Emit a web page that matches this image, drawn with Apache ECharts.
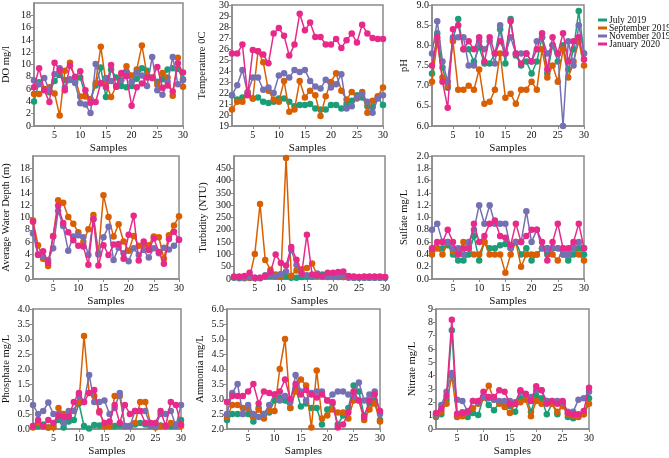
<!DOCTYPE html>
<html>
<head>
<meta charset="utf-8">
<script src="https://cdn.jsdelivr.net/npm/echarts@6/dist/echarts.min.js"></script>
<style>
html,body{margin:0;padding:0;background:#fff;}
#c{width:669px;height:458px;}
</style>
</head>
<body>
<div id="c"></div>
<script>
const samples = [1,2,3,4,5,6,7,8,9,10,11,12,13,14,15,16,17,18,19,20,21,22,23,24,25,26,27,28,29,30];
const seriesNames = ['July 2019','September 2019','November 2019','January 2020'];
const xTickLabels = [5,10,15,20,25,30];

// DO mg/l
const doJul = [4.0,7.1,6.0,5.5,7.3,8.3,7.5,7.5,7.3,7.9,5.0,4.4,6.6,9.5,4.7,9.2,7.9,6.5,6.3,6.5,7.7,9.4,9.0,7.8,7.2,7.6,9.2,9.4,9.3,7.6];
const doSep = [5.2,5.2,6.0,6.3,5.3,1.7,9.0,10.3,7.8,4.8,4.8,4.3,7.0,12.9,7.0,4.7,6.5,8.5,9.7,8.2,9.2,13.1,8.3,7.9,6.7,8.6,7.9,4.9,11.1,6.4];
const doNov = [7.4,6.8,7.8,5.8,8.4,9.4,6.2,7.6,7.0,3.7,3.5,2.1,10.1,6.9,7.8,7.3,6.4,7.5,8.8,7.2,8.7,8.2,6.5,11.2,5.8,5.1,7.2,11.2,6.8,7.5];
const doJan = [6.3,9.4,5.8,3.9,10.3,9.1,5.8,9.8,8.0,8.9,5.8,3.8,3.9,7.0,6.3,9.9,6.4,8.6,8.1,3.3,6.3,6.9,7.9,7.8,9.6,6.2,6.6,5.6,10.2,8.7];

// Temperature 0C
const tempJul = [21.8,21.4,21.6,21.9,21.5,21.6,21.2,21.1,21.2,21.5,21.5,21.2,20.8,20.9,20.9,21.0,20.6,20.5,20.5,20.9,20.9,20.6,21.0,21.3,21.8,21.6,20.8,20.7,21.6,20.9];
const tempSep = [20.5,21.2,21.2,22.1,21.5,25.8,24.8,22.2,21.4,21.2,23.1,20.3,20.5,23.1,21.6,22.2,21.8,19.9,21.7,23.0,23.8,22.2,21.4,22.1,21.5,22.1,20.2,21.3,21.7,22.5];
const tempNov = [21.8,22.7,24.1,22.0,23.4,23.4,22.3,22.5,22.0,23.6,23.8,23.4,24.1,23.9,24.1,23.1,22.6,22.4,23.2,22.5,22.8,23.7,20.6,20.8,21.6,21.9,21.2,20.2,21.5,21.8];
const tempJan = [25.6,25.6,26.4,21.8,25.9,25.8,25.5,24.7,27.4,27.9,27.2,25.4,26.4,29.2,27.7,28.4,27.1,27.1,26.4,26.4,26.9,26.1,26.8,27.4,26.6,28.2,27.4,27.0,26.9,26.9];

// pH
const phJul = [7.3,8.3,7.45,6.95,8.15,8.65,7.9,7.9,7.6,7.95,7.55,7.55,7.8,8.4,7.55,8.65,7.75,7.5,7.6,7.3,7.6,8.2,7.3,8.0,7.6,8.0,7.4,7.9,8.85,7.8];
const phSep = [7.1,8.1,7.2,7.0,8.1,6.9,6.9,7.0,6.9,7.4,6.55,6.6,6.9,7.8,6.7,6.8,6.55,6.9,6.9,7.1,6.9,7.9,7.2,7.5,7.1,7.9,7.2,7.6,8.1,7.5];
const phNov = [7.8,8.6,7.6,7.1,8.2,8.2,8.2,7.5,7.5,8.1,7.9,8.1,7.55,8.5,7.8,8.2,7.8,7.8,7.8,7.6,8.1,8.2,7.8,8.0,7.8,6.0,8.1,7.5,8.5,7.8];
const phJan = [7.5,8.2,7.1,6.45,8.4,8.5,7.9,8.1,7.9,8.2,7.6,8.2,7.8,8.1,7.8,8.6,7.8,7.55,7.8,7.6,7.9,8.3,7.4,8.2,7.8,8.3,7.6,8.1,8.2,7.65];

// Average Water Depth (m) (July series not visible in the figure)
const depthJul = [null,null,null,null,null,null,null,null,null,null,null,null,null,null,null,null,null,null,null,null,null,null,null,null,null,null,null,null,null,null];
const depthSep = [9.5,5.5,3.3,2.1,7.0,12.8,12.4,10.1,9.0,7.6,6.0,8.1,10.4,4.2,13.6,10.1,6.9,8.9,6.1,4.6,7.0,5.4,5.6,5.5,6.9,6.8,3.3,7.1,8.7,10.2];
const depthNov = [7.4,3.9,3.6,3.1,5.0,11.1,8.6,4.6,6.9,7.1,6.8,3.9,9.8,4.0,6.8,8.5,3.1,5.1,4.2,2.9,5.0,3.9,4.7,3.5,5.0,4.2,5.1,4.8,5.4,6.4];
const depthJan = [9.3,4.0,4.5,2.6,6.9,11.9,9.1,7.6,6.3,5.4,5.3,2.3,9.7,2.2,5.5,3.9,5.6,5.7,3.3,7.2,10.3,3.0,6.1,4.7,6.6,4.4,2.5,6.5,7.7,6.4];

// Turbidity (NTU)
const turbJul = [5,3,3,5,3,3,10,12,10,8,10,5,5,8,10,10,12,18,15,12,10,8,8,5,5,5,5,5,5,5];
const turbSep = [8,10,5,5,102,305,77,38,18,10,492,13,35,40,45,63,15,10,8,8,8,8,8,8,8,8,8,8,8,8];
const turbNov = [10,5,5,8,5,5,15,15,12,20,30,118,57,20,15,10,22,10,10,10,10,15,5,5,5,5,5,5,5,5];
const turbJan = [8,8,12,25,5,5,12,28,100,65,55,130,78,22,180,18,15,12,25,25,28,30,12,10,8,10,10,10,10,8];

// Sulfate mg/L
const sulJul = [0.45,0.5,0.5,0.55,0.4,0.3,0.3,0.4,0.7,0.3,0.6,0.5,0.5,0.55,0.57,0.5,0.6,0.4,0.5,0.3,0.4,0.5,0.4,0.5,0.5,0.4,0.3,0.4,0.5,0.4];
const sulSep = [0.4,0.5,0.4,0.6,0.45,0.45,0.6,0.5,0.4,0.4,0.6,0.4,0.4,0.4,0.1,0.4,0.6,0.2,0.4,0.4,0.4,0.5,0.5,0.4,0.3,0.5,0.4,0.5,0.4,0.3];
const sulNov = [0.8,0.9,0.6,0.6,0.5,0.5,0.4,0.6,0.8,1.2,0.9,1.2,0.9,0.9,0.9,0.5,0.6,0.6,1.1,0.6,0.8,0.5,0.5,0.5,0.5,0.4,0.4,0.5,0.6,0.5];
const sulJan = [0.5,0.6,0.6,0.8,0.6,0.4,0.5,0.5,0.9,0.6,0.7,0.9,0.95,0.7,0.67,0.55,0.9,0.6,0.7,0.8,0.8,0.6,0.3,0.6,0.9,0.5,0.5,0.6,0.9,0.5];

// Phosphate mg/L
const phosJul = [0.1,0.1,0.15,0.05,0.1,0.3,0.05,0.25,0.3,0.85,0.1,0.02,0.13,0.12,0.1,0.12,0.1,0.12,0.1,0.1,0.15,0.2,0.15,0.1,0.1,0.12,0.1,0.1,0.15,0.3];
const phosSep = [0.05,0.2,0.1,0.05,0.05,0.7,0.5,0.45,0.6,0.9,3.1,1.2,1.1,0.6,0.1,0.1,1.1,1.1,0.1,0.1,0.2,0.9,0.9,0.2,0.05,0.1,0.1,0.2,0.1,0.1];
const phosNov = [0.8,0.5,0.6,0.88,0.5,0.5,0.2,0.6,0.6,1.1,0.9,1.8,0.9,0.9,0.95,0.5,0.7,1.2,0.1,0.1,0.6,0.6,0.6,0.1,0.1,0.5,0.5,0.6,0.1,0.8];
const phosJan = [0.1,0.3,0.1,0.3,0.2,0.45,0.4,0.4,0.9,1.2,0.9,1.2,1.3,0.55,0.2,0.25,0.8,0.2,0.8,0.5,0.6,0.6,0.2,0.2,0.2,0.6,0.1,0.9,0.8,0.15];

// Ammonia mg/L
const ammJul = [2.3,2.5,2.5,2.5,2.5,2.25,2.7,2.5,2.55,2.95,3.05,2.95,2.7,3.35,2.75,2.85,2.7,2.7,2.15,2.65,2.85,2.15,2.45,2.7,3.45,3.25,2.45,2.85,2.95,2.3];
const ammSep = [2.4,2.8,2.8,2.7,2.7,2.4,2.65,2.35,2.6,2.6,4.0,5.0,2.7,3.25,3.65,3.45,2.05,3.95,2.35,2.45,2.65,2.55,2.55,2.35,2.95,2.95,2.3,2.65,2.85,2.25];
const ammNov = [2.5,3.2,3.5,2.5,2.8,2.5,2.4,2.5,2.8,3.15,2.95,3.1,2.9,3.8,3.25,2.95,3.2,3.25,3.25,2.95,3.15,3.25,3.25,3.15,3.1,3.55,2.95,3.15,3.25,2.5];
const ammJan = [2.9,3.1,3.1,3.1,3.25,3.5,2.85,3.25,3.2,3.15,3.25,3.65,3.0,3.5,3.15,3.3,3.15,3.05,3.15,2.95,2.9,2.05,2.15,2.55,3.25,2.95,2.4,2.95,3.15,2.6];

// Nitrate mg/L
const nitJul = [0.9,1.1,2.2,7.4,0.9,1.25,0.9,1.2,1.05,2.4,1.8,1.4,2.0,1.9,1.7,1.3,2.3,2.6,1.3,2.5,2.3,1.1,1.9,1.1,1.9,0.9,0.8,0.9,1.1,2.3];
const nitSep = [1.0,1.3,1.9,4.0,0.95,0.95,1.35,1.55,1.9,2.35,3.25,2.2,1.9,1.65,1.2,1.9,2.0,2.2,0.95,2.1,1.9,2.1,1.9,1.3,1.7,1.1,1.0,0.95,1.1,1.9];
const nitNov = [1.1,1.8,2.8,4.2,2.2,2.1,1.3,2.1,2.0,2.45,2.3,2.2,2.1,2.1,2.1,2.0,2.8,2.6,2.4,2.9,2.9,2.1,2.1,2.1,2.0,1.3,1.3,2.2,2.3,2.8];
const nitJan = [1.2,1.5,2.5,8.2,1.15,1.2,1.3,2.1,2.1,2.8,2.4,2.4,2.9,2.8,1.9,1.9,2.9,2.65,2.1,3.2,2.9,1.9,2.1,1.9,2.1,1.2,1.1,1.1,1.35,3.1];

const colors = ['#1b9e77','#d95f02','#7570b3','#e7298a'];
const FONT = 'Liberation Serif';

const panels = [
  {name:'DO mg/l', data:[doJul,doSep,doNov,doJan], min:0, max:20, interval:2, dec:0, hideMax:true, grid:{left:31, top:3, width:152, height:123}, gap:22},
  {name:'Temperature 0C', data:[tempJul,tempSep,tempNov,tempJan], min:19, max:30, interval:1, dec:0, hideMax:false, grid:{left:232, top:3, width:151, height:123}, gap:24},
  {name:'pH', data:[phJul,phSep,phNov,phJan], min:6, max:9, interval:0.5, dec:1, hideMax:false, grid:{left:432, top:3, width:152, height:123}, gap:22},
  {name:'Average Water Depth (m)', data:[depthJul,depthSep,depthNov,depthJan], min:0, max:20, interval:2, dec:0, hideMax:true, grid:{left:28, top:156, width:151, height:123}, gap:21},
  {name:'Turbidity (NTU)', data:[turbJul,turbSep,turbNov,turbJan], min:0, max:500, interval:50, dec:0, hideMax:true, grid:{left:234, top:156, width:151, height:123}, gap:25},
  {name:'Sulfate mg/L', data:[sulJul,sulSep,sulNov,sulJan], min:0, max:2, interval:0.2, dec:1, hideMax:false, grid:{left:432, top:156, width:152, height:123}, gap:22},
  {name:'Phosphate mg/L', data:[phosJul,phosSep,phosNov,phosJan], min:0, max:4, interval:0.5, dec:1, hideMax:false, grid:{left:26, top:309, width:155, height:124}, gap:21},
  {name:'Ammonia mg/L', data:[ammJul,ammSep,ammNov,ammJan], min:2, max:6, interval:0.5, dec:1, hideMax:false, grid:{left:227, top:309, width:153, height:124}, gap:21},
  {name:'Nitrate mg/L', data:[nitJul,nitSep,nitNov,nitJan], min:0, max:9, interval:1, dec:0, hideMax:false, grid:{left:436, top:309, width:153, height:124}, gap:18}
];

const grids = [], xAxes = [], yAxes = [], series = [];
const axisColor = '#8a8a8a';
panels.forEach((p, i) => {
  grids.push(Object.assign({show:true, borderColor:axisColor, borderWidth:1.5, backgroundColor:'transparent'}, p.grid));
  xAxes.push({
    gridIndex:i, type:'value', min:1, max:30,
    name:'Samples', nameLocation:'middle', nameGap:17,
    nameTextStyle:{fontFamily:FONT, fontSize:11, color:'#111'},
    axisLine:{show:true, onZero:false, lineStyle:{color:axisColor, width:1.5}},
    axisTick:{show:true, customValues:xTickLabels, length:3, lineStyle:{color:axisColor}},
    axisLabel:{customValues:xTickLabels, fontFamily:FONT, fontSize:10, color:'#111', margin:4},
    splitLine:{show:false}
  });
  yAxes.push({
    gridIndex:i, type:'value', min:p.min, max:p.max, interval:p.interval,
    name:p.name, nameLocation:'middle', nameGap:p.gap, nameRotate:90,
    nameTextStyle:{fontFamily:FONT, fontSize:10.5, color:'#111'},
    axisLine:{show:true, onZero:false, lineStyle:{color:axisColor, width:1.5}},
    axisTick:{show:true, length:3, lineStyle:{color:axisColor}},
    axisLabel:{fontFamily:FONT, fontSize:10, color:'#111', margin:3, showMaxLabel:!p.hideMax,
      formatter:(v)=>Number(v).toFixed(p.dec)},
    splitLine:{show:false}
  });
  p.data.forEach((arr, k) => {
    series.push({
      name:seriesNames[k], type:'line', xAxisIndex:i, yAxisIndex:i,
      data:samples.map((s, j) => [s, arr[j]]),
      symbol:'circle', symbolSize:6.5,
      lineStyle:{width:1.5, color:colors[k]},
      itemStyle:{color:colors[k]},
      connectNulls:false, animation:false, z:2+k
    });
  });
});

const chart = echarts.init(document.getElementById('c'), null, {renderer:'canvas'});
chart.setOption({
  animation:false,
  color:colors,
  grid:grids, xAxis:xAxes, yAxis:yAxes, series:series,
  legend:{
    data:seriesNames, orient:'vertical', left:598, top:15, padding:0,
    itemWidth:9, itemHeight:3, itemGap:-2, icon:'rect',
    textStyle:{fontFamily:FONT, fontSize:9.5, color:'#111', padding:[0,0,0,-3]}
  }
});
</script>
</body>
</html>
